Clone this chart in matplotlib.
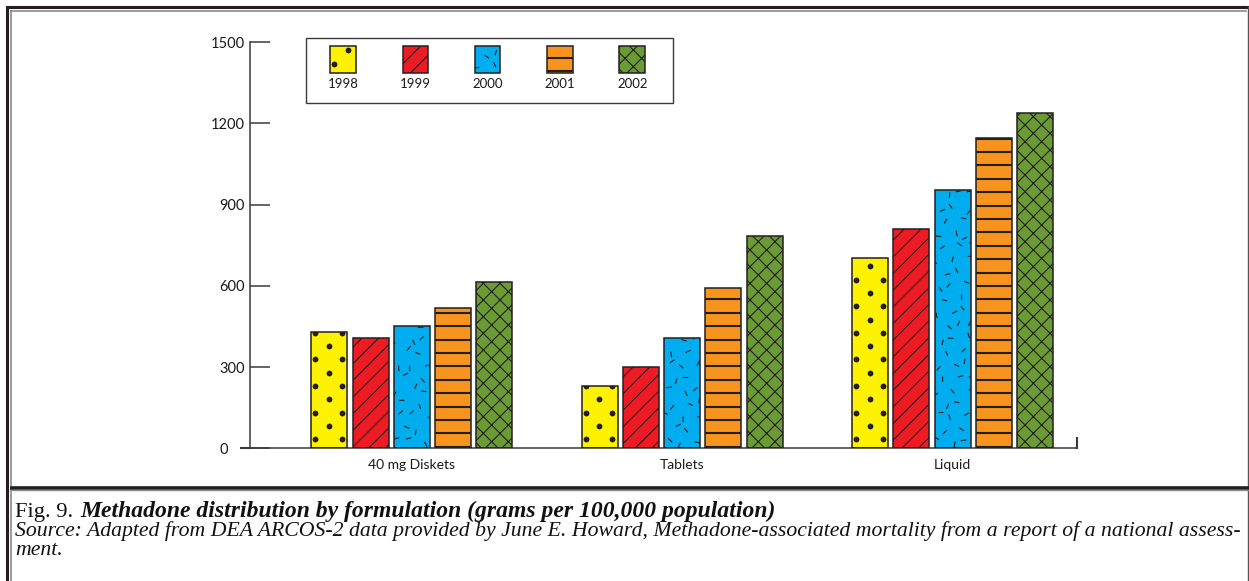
import numpy as np
import matplotlib
matplotlib.use("Agg")
import matplotlib.pyplot as plt
from matplotlib.patches import Rectangle
from matplotlib.lines import Line2D
from matplotlib.collections import LineCollection
from matplotlib.transforms import IdentityTransform

# values (grams per 100,000 population)
categories = ["40 mg Diskets", "Tablets", "Liquid"]
years = ["1998", "1999", "2000", "2001", "2002"]
v1998 = [428, 231, 704]
v1999 = [407, 301, 810]
v2000 = [453, 407, 955]
v2001 = [518, 593, 1145]
v2002 = [613, 785, 1237]
yticks = [0, 300, 600, 900, 1200, 1500]

series = [v1998, v1999, v2000, v2001, v2002]
colors = ["#FFF200", "#ED1C24", "#00AEEF", "#F7941D", "#6B9B35"]
textures = ["dots", "hatch", "dash", "lines", "hatch"]
hatches = [None, "//", None, None, "xx"]
INK = "#231F20"
SANS = "Lato"
SERIF = "Liberation Serif"

plt.rcParams["hatch.color"] = INK
plt.rcParams["hatch.linewidth"] = 0.8

W, H = 1249, 581
fig = plt.figure(figsize=(W / 100, H / 100), dpi=100)
ID = IdentityTransform()


def top(y):
    # pixel row measured from top -> display y
    return H - y


# ---- textures, drawn in pixel space and clipped to their box ----------
def add_line(line, clip, on_axes):
    if on_axes:
        ax.add_line(line)
    else:
        fig.add_artist(line)
    line.set_clip_path(clip)


def tex_dots(x0, y0, x1, y1, clip, on_axes):
    xs, ys = [], []
    for j, yy in enumerate(np.arange(y0 + 9, y1 + 6, 13.3)):
        for k, xx in enumerate(np.arange(x0 + 4, x1 + 6, 13.3)):
            if (j + k) % 2 == 0:
                xs.append(xx); ys.append(yy)
    ln = Line2D(xs, ys, ls="none", marker="o", ms=4.2, mfc=INK, mec="none",
                transform=ID, zorder=3)
    add_line(ln, clip, on_axes)


def tex_lines(x0, y0, x1, y1, clip, on_axes):
    for yy in np.arange(y0 + 1.5, y1, 13.4):
        ln = Line2D([x0, x1], [yy, yy], color=INK, lw=1.5, transform=ID,
                    zorder=3, solid_capstyle="butt")
        add_line(ln, clip, on_axes)


def tex_dash(x0, y0, x1, y1, clip, on_axes):
    segs = []
    for j, yy in enumerate(np.arange(y0 + 6, y1 + 4, 13.0)):
        for i, xx in enumerate(np.arange(x0 + 4 + (j % 2) * 7, x1 + 4, 14.0)):
            h = ((i + 3) * 7919 + (j + 5) * 104729 + int(x0) * 31) % 9973
            ang = np.deg2rad(h % 180)
            cx = xx + (h // 7 % 9) - 4
            cy = yy + (h // 63 % 9) - 4
            dx, dy = 2.8 * np.cos(ang), 2.8 * np.sin(ang)
            segs.append([(cx - dx, cy - dy), (cx + dx, cy + dy)])
    lc = LineCollection(segs, colors=INK, linewidths=0.8, transform=ID, zorder=3)
    if on_axes:
        ax.add_collection(lc, autolim=False)
    else:
        fig.add_artist(lc)
    lc.set_clip_path(clip)


TEX = {"dots": tex_dots, "lines": tex_lines, "dash": tex_dash}

# ---- axes --------------------------------------------------------------
ax = fig.add_axes([250 / W, 1 - 448.3 / H, (1077 - 250) / W, 406.3 / H])
ax.set_xlim(-0.598, 2.460)
ax.set_ylim(0, 1500)

x = np.arange(len(categories))
pitch, width = 0.1523, 0.1331
for i, (vals, col) in enumerate(zip(series, colors)):
    xi = x + (i - 2) * pitch
    ax.bar(xi, vals, width, color=col, edgecolor=INK, linewidth=0,
           hatch=hatches[i], zorder=2)
    outl = ax.bar(xi, vals, width, fill=False, edgecolor=INK, linewidth=1.1,
                  zorder=4)
    if textures[i] in TEX:
        for b in outl.patches:
            (px0, py0), (px1, py1) = ax.transData.transform(
                [[b.get_x(), 0], [b.get_x() + b.get_width(), b.get_height()]])
            TEX[textures[i]](px0, py0, px1, py1, b, True)

for s in ["top", "right"]:
    ax.spines[s].set_visible(False)
for s in ["left", "bottom"]:
    ax.spines[s].set_color("#3a3a3a")
    ax.spines[s].set_linewidth(1.1)

ax.set_yticks(yticks)
ax.set_yticklabels([str(t) for t in yticks])
ax.tick_params(axis="y", direction="in", length=14.5, width=1.1, color="#3a3a3a",
               pad=4, labelsize=10.5)
ax.yaxis.get_major_ticks()[0].set_pad(16)
ax.set_xticks(x)
ax.set_xticklabels(categories)
ax.tick_params(axis="x", length=0, pad=8, labelsize=10)
for lab in ax.get_xticklabels() + ax.get_yticklabels():
    lab.set_family(SANS)
    lab.set_color("#1a1a1a")

# small extensions of the x axis line
fig.add_artist(Line2D([241, 250], [top(448.3)] * 2, color="#3a3a3a", lw=1.5,
                      transform=ID))
fig.add_artist(Line2D([1077, 1077], [top(448.3), top(438)], color="#3a3a3a",
                      lw=1.5, transform=ID))

# ---- legend box --------------------------------------------------------
fig.add_artist(Rectangle((306, top(102.7)), 367, 64.7, fill=False,
                         edgecolor="#3a3a3a", lw=1.0, transform=ID))
for i, (yr, col) in enumerate(zip(years, colors)):
    cx = 343 + 72.3 * i
    sq = Rectangle((cx - 12.8, top(72.7)), 25.6, 26.7, facecolor=col,
                   edgecolor=INK, lw=0, hatch=hatches[i], transform=ID)
    fig.add_artist(sq)
    if textures[i] in TEX:
        TEX[textures[i]](cx - 12.8, top(72.7), cx + 12.8, top(46), sq, False)
    fig.add_artist(Rectangle((cx - 12.8, top(72.7)), 25.6, 26.7, fill=False,
                             edgecolor=INK, lw=1.1, transform=ID))
    fig.text(cx / W, 1 - 83.5 / H, yr, ha="center", va="center", family=SANS,
             size=9.5, color="#1a1a1a")

# ---- page frame ----------------------------------------------------------
frame = [
    ([7, W], [top(7)] * 2, INK, 2.2),
    ([7, 7], [top(7), 0], INK, 2.2),
    ([11, W - 3], [top(11)] * 2, "#8a8a8a", 1.2),
    ([11, 11], [top(11), 0], "#8a8a8a", 1.2),
    ([W - 1.5, W - 1.5], [top(7), 0], "#555555", 1.0),
    ([12, W], [top(487.8)] * 2, INK, 2.6),
    ([12, W], [top(490)] * 2, "#8a8a8a", 1.0),
]
for xs, ys, c, lw in frame:
    fig.add_artist(Line2D(xs, ys, color=c, lw=lw, transform=ID))

# ---- caption -------------------------------------------------------------
r = fig.canvas.get_renderer()
src = ("Source: Adapted from DEA ARCOS-2 data provided by June E. Howard, "
       "Methadone-associated mortality from a report of a national assess-")
t = fig.text(15 / W, 1 - 536 / H, src, family=SERIF, style="italic", size=10,
             color="#111111")
w10 = t.get_window_extent(r).width
t.set_size(10 * 1228 / w10)
fig.text(15 / W, 1 - 555 / H, "ment.", family=SERIF, style="italic",
         size=t.get_size(), color="#111111")

t1 = fig.text(15 / W, 1 - 517 / H, "Fig. 9.", family=SERIF, size=t.get_size() + 0.5,
              color="#111111")
bb = t1.get_window_extent(r)
title = "Methadone distribution by formulation (grams per 100,000 population)"
t2 = fig.text((bb.x1 + 7) / W, 1 - 517 / H, title, family=SERIF, style="italic",
              weight="bold", size=10, color="#111111")
w = t2.get_window_extent(r).width
t2.set_size(10 * (775 - bb.x1 - 7) / w)

fig.savefig("out.png", dpi=100)
